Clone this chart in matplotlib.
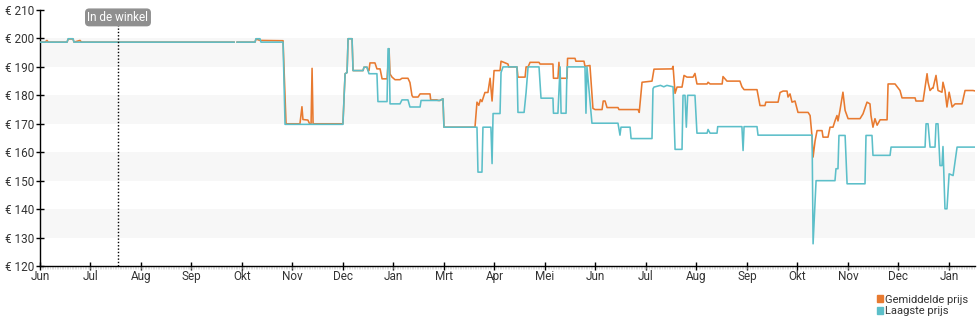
import numpy as np
import matplotlib
matplotlib.use("Agg")
import matplotlib.pyplot as plt
from matplotlib.patches import Patch

plt.rcParams['font.family'] = ['Roboto', 'DejaVu Sans']

# Price history: day offset from the first tick, price in euro
avg_day = [0, 3, 4.2, 5, 16.3, 17, 19.9, 20.5, 24.1, 25, 117, np.nan,
           118.8, 129.6, 130.2, 132.6, 146.5, 148.3, 156.7, 157.9, 158.5, 161.5,
           162.5, 163.4, 164, 164.6, 182.6, 183.9, 185.1, 185.7, 188.1, 188.7,
           194.7, 195.3, 197.1, 197.7, 198.3, 198.9, 201.9, 203.1, 205, 206.2,
           209.2, 210.4, 211, 212.2, 214, 217, 218.2, 221.8, 223, 224.2, 224.8,
           227.9, 229.1, 235.1, 235.5, 239.3, 239.9, 241.1, 242.9, 243.5, 262.2,
           263.4, 264.5, 265.5, 266.4, 268.2, 270, 271.3, 272.5, 273.7, 277.3,
           277.9, 282.1, 282.5, 287.5, 288.1, 292.4, 293, 294.2, 295.4, 300.8,
           301.4, 309.2, 309.5, 312.2, 312.8, 313.5, 317.7, 318, 322.5, 323,
           327.9, 328.5, 331.5, 333.3, 334.6, 338.8, 339.5, 340.6, 341.8, 348.4,
           349, 360.5, 361.2, 362.9, 368.9, 370.1, 381, 381.6, 382.8, 384, 387,
           388.2, 390, 393.6, 394.8, 396, 402.1, 402.7, 403.9, 411.2, 411.7,
           414.1, 421.9, 423.1, 424.4, 432.2, 434, 437, 437.5, 444.9, 446.1,
           447.9, 450.3, 450.9, 452.1, 453.3, 455.1, 456.9, 463, 464.2, 465.4,
           466, 467.2, 468.4, 471.4, 472, 475, 476.2, 478, 479.2, 480.4, 481,
           482.2, 484, 485.3, 487.1, 494.3, 496.1, 498.5, 500.3, 500.9, 502.1,
           503.3, 504.6, 506.4, 510.6, 511.2, 515.4, 518.4, 519.6, 527.5, 528,
           532.3, 534.7, 535.3, 536.5, 537.7, 538.3, 540.1, 541.3, 543.7, 544.3,
           545.5, 546.7, 548, 549.8, 551.6, 555.8, 557.6, 562.4, 564.8]
avg_price = [198.7, 198.7, 199.3, 198.7, 198.7, 199.8, 199.8, 198.7, 199.3, 198.7, 198.7, np.nan,
             198.7, 198.7, 199.8, 199.3, 199.2, 170, 170, 176, 171.5, 171.3,
             170, 170, 189.5, 170, 170, 187.6, 188, 199.9, 199.9, 188.7,
             188.7, 189.9, 189.9, 188.7, 188.7, 191.4, 191.4, 189.3, 189.3, 185.8,
             185.8, 196.4, 187.5, 186.4, 185.5, 185.5, 186, 186, 184.5, 180, 179.4,
             179.4, 180.5, 180.5, 178.4, 178.4, 178.2, 178.2, 178.8, 168.8, 168.8,
             177.6, 176.5, 178.5, 177.8, 181, 181, 186, 178, 188.7, 188.7,
             192, 191, 190, 190, 186.4, 186.4, 190, 190, 191.6, 191.6,
             191, 191, 186, 186, 191.6, 186, 186, 193, 193, 192,
             192, 190.2, 190.5, 175.4, 175, 175, 178, 178, 175.7, 175.7,
             175, 175, 174, 184.6, 185, 189.2, 189.3, 190.2, 180.7, 182.9, 182.9,
             187, 186.4, 186.4, 187.7, 184, 184, 184.6, 184, 184, 186.6,
             185, 185, 183, 182, 182, 176.4, 176.4, 177.6, 177.6, 181,
             181.5, 181.5, 179.4, 180.5, 177.6, 178, 174, 174, 172.9, 165.3,
             158.3, 164, 167.6, 167.6, 165.3, 165.3, 168.8, 168.8, 171, 172.9, 171,
             174.7, 181.1, 174.7, 171.8, 171.8, 173.5, 177.6, 177, 172.9, 168.8,
             171.8, 169.5, 171.4, 171.4, 184, 184, 181.7, 179.1, 179.1, 178,
             178, 187.6, 184.6, 181.7, 182.5, 182.5, 187, 181.7, 181.1, 184.6,
             181.7, 175.9, 181.1, 175.9, 177, 177, 181.7, 181.7, 181.4]

low_day = [0, 16.3, 17, 19.9, 20.5, 117, np.nan,
           118.8, 129.6, 130.2, 132.6, 133.2, 146.5, 147.7, 182.6, 183.9, 185.1,
           185.7, 188.1, 188.7, 194.7, 195.3, 197.1, 197.7, 198.3, 203.1, 203.7,
           209.2, 209.8, 210.4, 211, 217, 218.2, 221.8, 223, 229.1, 229.7, 241.1,
           242.9, 243.5, 263.4, 264, 266.4, 267, 271.8, 272.5, 273.1, 277.3,
           277.9, 279.1, 287.5, 288.1, 291.8, 293, 294.2, 300.8, 302, 309.2,
           309.5, 312.2, 313.5, 314.1, 317.1, 317.7, 328.5, 329.1, 329.7, 332.7,
           348.4, 349.6, 350.2, 355.7, 356.3, 368.9, 369.5, 370.1, 374, 376,
           377.9, 381.6, 382.8, 387, 387.6, 388.8, 389.6, 390.4, 394.8, 396,
           402.1, 402.7, 403.9, 408.1, 408.5, 423.1, 423.8, 424.4, 432.2, 432.8,
           465.4, 466, 467.8, 479.2, 479.8, 481, 481.6, 485.3, 486.5, 497.3,
           497.9, 501.5, 502.1, 512.4, 513, 533.5, 534.1, 535.3, 536.5, 539.5,
           540.1, 541.3, 542.5, 543.7, 544.3, 545.5, 546.7, 548, 550.4, 552.8,
           564.8]
low_price = [198.7, 198.7, 199.9, 199.9, 198.7, 198.7, np.nan,
             198.7, 198.7, 199.9, 199.9, 198.7, 198.7, 169.8, 169.8, 187.6, 188,
             199.9, 199.9, 188.7, 188.7, 189.9, 189.9, 188.7, 187.6, 187.6, 177.8,
             177.8, 196.4, 196.4, 177, 177, 178.4, 178.4, 175.9, 175.9, 178.2, 178.2,
             178.8, 168.8, 168.8, 153, 153, 168.8, 168.8, 156, 173.6, 173.6,
             188, 190, 190, 174, 174, 181, 190, 190, 179, 179,
             173.7, 173.7, 190, 173.7, 173.7, 190, 190, 173.7, 190, 170.2,
             170.2, 166, 168.8, 168.8, 164.8, 164.8, 182.3, 182.9, 183.5, 183,
             183.5, 183, 161, 161, 180, 180, 168.8, 180, 180, 166.7,
             166.7, 168, 166.7, 166.7, 169, 169, 160.6, 169, 169, 166,
             166, 127.8, 150, 150, 154.2, 154.2, 165.9, 165.9, 148.9, 148.9,
             165.9, 165.9, 158.9, 158.9, 161.8, 161.8, 170, 170, 161.8, 161.8,
             170, 170, 155.3, 155.3, 162, 140.1, 140.1, 152.4, 151.8, 161.8,
             161.8]

month_labels = ['Jun', 'Jul', 'Aug', 'Sep', 'Okt', 'Nov', 'Dec', 'Jan', 'Mrt', 'Apr',
                'Mei', 'Jun', 'Jul', 'Aug', 'Sep', 'Okt', 'Nov', 'Dec', 'Jan']
price_ticks = [120, 130, 140, 150, 160, 170, 180, 190, 200, 210]
store_day = 47

ORANGE = '#e87a30'
TEAL = '#5cbfc9'
TEXT = '#333333'

fig = plt.figure(figsize=(9.8, 3.25), dpi=100)
ax = fig.add_axes([40 / 980, 59 / 325, 935 / 980, 256 / 325])

# alternating horizontal bands
for lo in (130, 150, 170, 190):
    ax.axhspan(lo, lo + 10, color='#f7f7f7', lw=0, zorder=0)

ax.plot(avg_day, avg_price, color=ORANGE, lw=1.15, zorder=3)
ax.plot(low_day, low_price, color=TEAL, lw=1.15, zorder=4)

ax.axvline(store_day, ymax=0.975, color='black', lw=1.0, ls=(0, (1, 1.4)), zorder=5)
ax.text(store_day, 207.4, 'In de winkel', ha='center', va='center', fontsize=8.5,
        color='white', zorder=6,
        bbox=dict(boxstyle='round,pad=0.15,rounding_size=0.3', fc='#8f8f8f', ec='#8f8f8f'))

month_len = 30.44
ax.set_xlim(0, 563.6)
ax.set_ylim(120, 210)
ax.set_xticks([i * month_len for i in range(len(month_labels))])
ax.set_xticklabels(month_labels)
ax.set_xticks(np.arange(0, 564, 1.0), minor=True)
ax.set_yticks(price_ticks)
ax.set_yticklabels([f'€ {v}' for v in price_ticks])

for side in ('top', 'right'):
    ax.spines[side].set_visible(False)
for side in ('left', 'bottom'):
    ax.spines[side].set_color('black')
    ax.spines[side].set_linewidth(1.0)

ax.tick_params(axis='both', which='major', direction='inout', length=6, width=1,
               colors='black', labelcolor=TEXT, labelsize=8.5)
ax.tick_params(axis='x', which='major', pad=0)
ax.tick_params(axis='y', which='major', pad=1)
ax.tick_params(axis='x', which='minor', direction='out', length=2, width=0.4,
               color='#c8c8c8')

handles = [Patch(color=ORANGE, label='Gemiddelde prijs'),
           Patch(color=TEAL, label='Laagste prijs')]
fig.legend(handles=handles, loc='upper left', bbox_to_anchor=(871 / 980, 1 - 289 / 325),
           frameon=False, fontsize=8, handlelength=0.55, handleheight=0.55,
           handletextpad=0.2, labelspacing=0.15, borderpad=0, labelcolor=TEXT)

fig.savefig('out.png', dpi=100)
